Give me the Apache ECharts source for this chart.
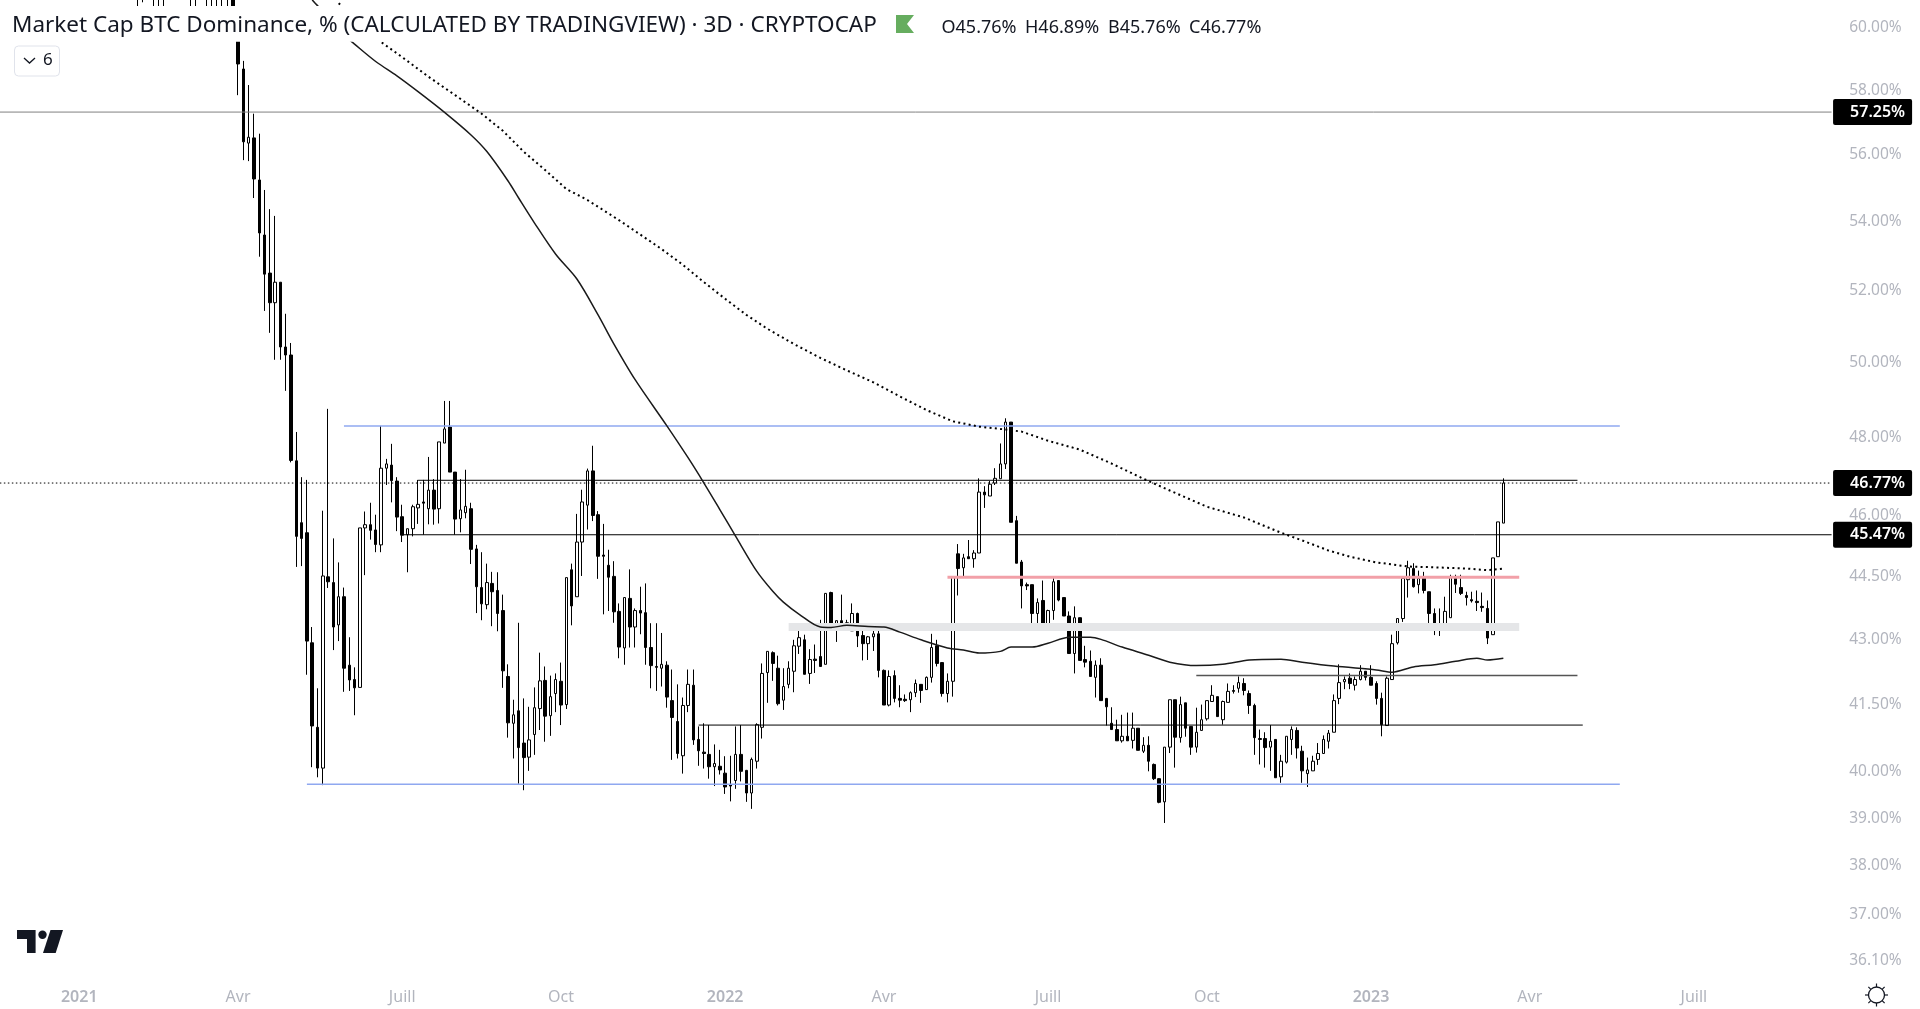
<!DOCTYPE html>
<html lang="fr">
<head>
  <meta charset="UTF-8" />
  <title>Market Cap BTC Dominance</title>
  <script src="https://cdn.jsdelivr.net/npm/echarts@6/dist/echarts.min.js"></script>
  <style>
    html, body { margin: 0; padding: 0; background: #fff; }
    #chart { width: 1920px; height: 1009px; }
  </style>
</head>
<body>
  <div id="chart"></div>
  <script>
    const font = '"Noto Sans", sans-serif';
    const barCount = 347;
    const firstBar = 26;

    // x axis labels, by bar index
    const tickIndex = [15, 45, 76, 106, 137, 167, 198, 228, 259, 289, 320];
    const tickLabels = ['2021', 'Avr', 'Juill', 'Oct', '2022', 'Avr', 'Juill', 'Oct', '2023', 'Avr', 'Juill'];
    const yTicks = [60, 58, 56, 54, 52, 50, 48, 46, 44.5, 43, 41.5, 40, 39, 38, 37, 36.1];

    const gap = ['-', '-', '-', '-'];
    // open, close, low, high (bars start at firstBar, those first ones run off the top)
    const candles = [
      [61.9,61.4,60.4,62.2],[61.9,61.4,60.78,62.2],gap,[61.9,61.4,60.4,62.2],[61.9,61.4,60.4,62.2],[61.9,61.4,60.4,62.2],
      gap,gap,gap,gap,[61.9,61.4,60.4,62.2],[61.9,61.4,60.4,62.2],gap,[61.9,61.4,60.4,62.2],[61.9,61.4,60.4,62.2],
      [61.9,61.4,60.4,62.2],[61.9,61.4,60.4,62.2],[61.9,61.4,60.4,62.2],[62,60.2,60,62.2],
      [60.03,58.77,57.78,60.53],[58.61,56.33,55.77,58.87],[56.29,56.47,55.74,58.10],[56.45,55.20,54.63,57.20],
      [55.17,53.60,52.91,56.58],[53.54,52.41,51.37,54.87],[52.44,51.60,50.76,54.30],[51.60,52.18,50.02,54.10],
      [52.18,50.37,50.02,52.18],[50.37,50.15,49.18,51.29],[50.15,47.35,47.30,50.48],
      [47.34,45.43,44.68,48.09],[45.77,45.38,44.70,46.92],[45.52,42.91,42.13,46.85],[42.87,40.97,40.06,43.24],
      [40.94,40.04,39.84,41.82],[40.04,44.46,39.67,46.07],[44.44,44.32,44.17,48.70],[44.30,43.24,42.70,45.38],
      [43.29,43.96,42.91,44.79],[43.96,42.28,41.74,44.18],[42.35,42.01,41.76,43.00],[42.02,41.83,41.21,42.30],
      [41.84,45.64,41.84,45.64],[45.64,45.72,44.48,46.05],[45.72,45.58,45.35,46.27],[45.59,45.23,45.04,45.97],
      [45.22,47.15,45.04,48.25],[47.15,47.26,46.72,47.39],[47.23,46.83,46.28,47.78],[46.82,45.91,45.56,46.92],
      [45.92,45.46,45.29,46.22],[45.47,45.62,44.55,45.62],[45.62,46.17,45.43,46.22],[46.14,46.23,45.74,46.85],
      [46.29,46.26,45.47,46.85],[46.12,46.59,45.73,47.44],[46.59,46.11,45.72,46.87],[46.12,47.83,45.75,47.83],
      [47.80,48.17,47.80,48.91],[48.22,47.05,47.05,48.91],[47.05,45.86,45.47,47.05],[45.87,46.09,45.53,46.87],
      [46.02,46.18,45.88,47.11],[46.12,45.11,44.75,46.27],[45.12,44.20,43.57,45.22],[44.18,43.79,43.40,45.04],
      [43.77,44.30,43.66,44.76],[44.28,44.08,43.26,44.56],[44.11,43.56,43.14,44.55],[43.63,42.22,41.83,44.01],
      [42.09,41.04,40.71,42.37],[41.03,41.22,40.25,41.56],[41.31,40.49,39.70,43.34],[40.59,40.27,39.56,41.59],
      [40.28,40.66,39.98,41.40],[40.78,41.38,40.33,41.84],[41.36,41.99,40.88,42.64],[42.00,41.19,40.62,42.32],
      [41.20,41.63,40.75,42.11],[41.70,42.02,41.28,42.16],[41.98,41.44,40.99,42.41],[41.45,44.42,41.35,44.42],
      [44.61,43.74,43.28,44.76],[43.96,45.29,43.96,45.99],[45.29,46.29,44.46,46.60],[46.21,47.08,45.60,47.14],
      [47.08,45.95,45.81,47.73],[45.97,44.94,44.39,46.06],[44.97,44.94,43.54,45.74],[44.72,44.43,43.62,45.10],
      [44.45,43.60,43.34,44.82],[43.61,42.77,42.51,43.80],[42.75,43.94,42.36,43.94],[43.92,43.24,42.76,44.62],
      [43.24,43.63,42.76,43.68],[43.63,43.57,43.07,44.20],[43.58,42.76,42.36,44.28],[42.76,42.34,41.82,43.33],
      [42.32,42.30,41.76,43.33],[42.28,42.37,41.86,43.10],[42.35,41.62,41.38,42.44],[41.54,41.16,40.22,42.25],
      [41.07,40.36,40.25,41.91],[40.31,41.43,39.92,41.61],[41.43,41.91,41.28,42.25],[41.89,40.66,40.55,42.25],
      [40.67,40.42,40.09,40.96],[40.39,40.36,40.03,41.03],[40.34,40.07,39.81,40.99],[40.07,40.14,39.65,40.56],
      [40.08,40.00,39.90,40.44],[39.93,39.63,39.48,40.30],[39.68,39.65,39.32,40.31],[39.77,40.34,39.59,40.96],
      [40.34,39.97,39.75,40.99],[39.99,39.50,39.31,40.00],[39.50,40.23,39.16,40.27],[40.19,41.00,40.03,41.03],
      [40.94,42.16,40.69,42.39],[42.18,42.67,41.49,42.67],[42.64,42.39,41.99,42.67],[42.28,41.47,41.43,42.57],
      [41.55,41.86,41.33,42.28],[41.91,42.28,41.82,42.44],[42.21,42.80,41.73,42.94],[42.79,42.99,42.61,43.22],
      [42.94,42.14,42.14,43.06],[42.16,42.48,41.92,42.72],[42.49,42.46,42.17,42.83],[42.55,42.32,42.32,43.41],
      [42.37,44.04,42.37,44.04],[44.06,43.22,43.22,44.08],[43.26,43.39,42.89,43.39],[43.39,43.32,43.32,44.01],
      [43.34,43.17,43.17,43.41],[43.15,43.56,43.15,43.80],[43.56,43.03,42.77,43.58],[43.04,42.85,42.46,43.15],
      [42.85,43.01,42.47,43.03],[43.01,43.08,42.68,43.24],[43.08,42.23,42.07,43.24],[42.23,41.44,41.44,42.25],
      [41.44,42.09,41.41,42.23],[42.11,41.59,41.50,42.23],[41.59,41.55,41.39,41.89],[41.57,41.54,41.51,41.68],
      [41.56,41.72,41.28,41.75],[41.72,41.93,41.62,42.02],[41.91,41.77,41.49,41.91],[41.79,42.07,41.79,42.09],
      [42.07,42.76,41.95,43.08],[42.80,42.39,42.32,42.94],[42.41,41.70,41.63,42.42],[41.70,41.98,41.50,42.16],
      [41.98,44.44,41.63,44.44],[45.00,44.64,43.99,45.24],[44.66,44.90,44.44,45.00],[44.93,44.88,44.88,45.34],
      [44.88,45.02,44.66,45.09],[45.02,46.54,45.02,46.89],[46.54,46.47,46.14,46.69],[46.44,46.74,46.44,46.82],
      [46.77,46.89,46.72,47.15],[46.88,47.26,46.88,47.79],[47.26,48.35,47.13,48.45],[48.35,45.78,45.78,48.35],
      [45.82,44.77,44.77,45.94],[44.80,44.22,43.68,44.85],[44.25,44.22,44.12,44.30],[44.25,43.56,43.17,44.25],
      [43.56,43.82,43.23,43.92],[43.87,43.24,43.20,44.35],[43.22,43.63,43.17,43.65],[43.63,44.32,43.41,44.42],
      [44.35,43.88,43.85,44.35],[43.94,43.50,43.50,43.94],[43.50,42.62,42.62,43.61],[42.62,43.46,42.16,43.73],
      [43.46,42.46,42.46,43.46],[42.48,42.42,42.30,42.80],[42.44,42.09,42.09,42.69],[42.07,42.35,41.61,42.46],
      [42.35,41.54,41.54,42.51],[41.59,41.40,40.98,41.60],[41.03,40.89,40.89,41.39],[40.89,40.64,40.64,41.11],
      [40.64,40.74,40.60,41.22],[40.74,40.64,40.64,41.27],[40.65,40.92,40.47,41.27],[40.92,40.43,40.43,40.92],
      [40.41,40.54,40.37,40.72],[40.54,40.19,39.97,40.74],[40.12,39.81,39.78,40.14],[39.81,39.30,39.28,39.82],
      [39.31,40.50,38.86,40.50],[40.50,41.56,40.37,41.56],[41.56,40.72,40.05,41.56],[40.71,41.45,40.60,41.63],
      [41.49,40.92,40.73,41.49],[40.96,40.50,40.33,40.96],[40.50,40.83,40.38,41.38],[40.87,41.11,40.87,41.45],
      [41.13,41.54,41.09,41.54],[41.52,41.66,41.52,41.89],[41.63,41.18,41.18,41.63],[41.11,41.52,41.00,41.54],
      [41.50,41.75,41.50,41.93],[41.77,41.75,41.70,41.89],[41.82,41.95,41.72,42.09],[41.93,41.77,41.66,42.05],
      [41.70,41.43,41.24,41.77],[41.43,40.71,40.33,41.47],[40.69,40.67,40.12,40.89],[40.69,40.49,40.05,40.83],
      [40.50,40.63,39.98,40.99],[40.67,39.83,39.83,40.67],[39.85,40.19,39.72,40.33],[40.17,40.74,40.14,40.74],
      [40.67,40.89,40.33,40.96],[40.87,40.48,40.25,40.94],[40.41,39.98,39.72,40.53],[39.92,40.00,39.63,40.27],
      [39.98,40.19,39.98,40.31],[40.23,40.36,40.11,40.59],[40.36,40.67,40.36,40.76],[40.63,40.81,40.47,40.88],
      [40.83,41.54,40.83,41.68],[41.59,41.95,41.46,42.37],[41.97,42.02,41.80,42.09],[42.05,41.93,41.80,42.16],
      [41.89,42.02,41.77,42.09],[42.02,42.21,42.00,42.35],[42.21,42.07,42.00,42.21],[42.07,41.89,41.89,42.35],
      [41.93,41.59,41.45,41.98],[41.59,41.00,40.74,41.72],[40.98,42.05,40.98,42.09],[42.02,42.85,42.02,43.06],
      [42.87,43.44,42.83,43.44],[43.44,44.40,43.36,44.40],[44.37,44.66,43.94,44.83],[44.64,44.20,44.18,44.77],
      [44.25,44.40,44.04,44.59],[44.42,44.11,44.04,44.56],[44.08,43.56,43.26,44.08],[43.56,43.22,43.05,43.68],
      [43.20,43.29,43.03,43.68],[43.29,43.61,43.19,43.96],[43.46,44.42,43.46,44.49],[44.42,44.26,44.05,44.49],
      [44.18,44.04,44.00,44.49],[43.99,43.94,43.75,44.08],[43.89,43.86,43.82,44.08],[43.85,43.82,43.62,44.11],
      [43.73,43.70,43.60,44.06],[43.68,42.98,42.84,43.87],[43.06,44.90,43.06,44.90],[44.93,45.79,44.93,45.79],
      [45.76,46.77,45.76,46.89]
    ];

    // moving averages, [bar index, value] read every few bars
    const maFast = [
      [59,60.86],[60,60.67],[66,59.56],[67,59.41],[71,58.85],[75,58.39],[79,57.89],[84,57.24],[89,56.54],[92,56.03],
      [96,55.14],[98,54.63],[101,53.89],[105,52.98],[109,52.27],[113,51.26],[116,50.45],[120,49.48],[126,48.25],
      [130,47.42],[133,46.77],[136,46.10],[139,45.43],[143,44.57],[146,44.09],[148,43.83],[151,43.54],[155,43.24],
      [157,43.23],[160,43.28],[164,43.25],[167,43.24],[170,43.12],[174,42.94],[179,42.75],[182,42.70],[185,42.63],
      [189,42.67],[191,42.77],[195,42.77],[198,42.86],[202,43.00],[206,43.00],[208,42.95],[212,42.77],[217,42.58],
      [221,42.42],[226,42.34],[231,42.37],[236,42.47],[242,42.49],[246,42.42],[252,42.33],[260,42.24],[263,42.19],
      [267,42.31],[271,42.36],[275,42.44],[279,42.51],[281,42.47],[284,42.51]
    ];
    const maSlow = [
      [64,60.75],[72,59.48],[76,58.99],[81,58.36],[86,57.78],[91,57.20],[95,56.67],[99,56.02],[103,55.47],[107,54.90],
      [111,54.57],[117,53.97],[121,53.55],[125,53.13],[129,52.68],[133,52.18],[137,51.71],[141,51.26],[145,50.87],
      [150,50.45],[155,50.07],[160,49.73],[165,49.41],[170,49.03],[175,48.67],[180,48.37],[185,48.23],[189,48.17],
      [193,48.10],[198,47.86],[204,47.63],[210,47.27],[216,46.88],[221,46.58],[228,46.17],[235,45.90],[242,45.52],
      [246,45.33],[251,45.08],[255,44.93],[260,44.79],[266,44.69],[271,44.67],[277,44.64],[281,44.60],[284,44.64]
    ];

    // drawn levels: [start bar, end bar, price]
    const levelBlueTop = [65, 306, 48.25];
    const levelBlueBottom = [58, 306, 39.69];
    const levelRed = [179, 287, 44.43];
    const levelBand = [149, 287, 43.24];
    const levelUpper = [79, 298, 46.84];
    const levelMid = [76, 346, 45.47];
    const levelLow = [132, 299, 40.99];
    const levelNeck = [226, 298, 42.11];
    const levelOld = [0, 346, 57.25];
    const lastPrice = [0, 346, 46.77];

    const legendText = ['O45.76%', 'H46.89%', 'B45.76%', 'C46.77%'];

    const categories = [];
    for (let i = 0; i < barCount; i++) categories.push(String(i));

    const barData = [];
    for (let i = 0; i < firstBar; i++) barData.push(gap);
    candles.forEach(c => barData.push(c));
    while (barData.length < barCount) barData.push(gap);

    function level(l, color, width, type, tag) {
      const s = {
        type: 'line',
        data: [[l[0], l[2]], [l[1], l[2]]],
        symbol: 'none',
        silent: true,
        lineStyle: { color: color, width: width, type: type || 'solid', cap: 'butt' }
      };
      if (tag) {
        s.clip = false;
        s.endLabel = {
          show: true,
          formatter: l[2].toFixed(2) + '%',
          distance: 1.5,
          backgroundColor: '#000',
          color: '#fff',
          fontFamily: font,
          fontSize: 16,
          fontWeight: 600,
          borderRadius: 2,
          padding: [6, 7, 4, 17]
        };
      }
      return s;
    }

    const sunRays = [];
    for (let a = 0; a < 8; a++) {
      const t = a * Math.PI / 4;
      sunRays.push({
        type: 'line', z: 60,
        shape: { x1: 1876.5 + 8 * Math.cos(t), y1: 995 + 8 * Math.sin(t), x2: 1876.5 + 11.5 * Math.cos(t), y2: 995 + 11.5 * Math.sin(t) },
        style: { stroke: '#131722', lineWidth: 1.2 }
      });
    }

    const legendX = [941.5, 1025, 1108, 1189];

    const chart = echarts.init(document.getElementById('chart'), null, { renderer: 'canvas' });
    chart.setOption({
      animation: false,
      backgroundColor: '#fff',
      textStyle: { fontFamily: font },
      grid: { left: -2.8, top: 0, width: barCount * 5.294, bottom: 34, containLabel: false, outerBoundsMode: 'none' },
      xAxis: {
        type: 'category',
        data: categories,
        boundaryGap: true,
        axisLine: { show: false },
        axisTick: { show: false },
        splitLine: { show: false },
        axisLabel: {
          interval: 0,
          margin: 14,
          color: '#b2b5be',
          fontFamily: font,
          fontSize: 16,
          formatter: (v, i) => {
            const k = tickIndex.indexOf(i);
            if (k < 0) return '';
            const t = tickLabels[k];
            return /^\d/.test(t) ? '{y|' + t + '}' : t;
          },
          rich: { y: { fontWeight: 600, color: '#b2b5be', fontFamily: font, fontSize: 16 } }
        }
      },
      yAxis: {
        type: 'log',
        logBase: 10,
        position: 'right',
        min: 35.77,
        max: 60.856,
        splitLine: { show: false },
        axisLine: { show: false },
        axisTick: { show: false },
        axisLabel: {
          customValues: yTicks,
          margin: 15,
          color: '#b2b5be',
          fontFamily: font,
          fontSize: 15.5,
          formatter: v => '{p|' + v.toFixed(2) + '%}',
          rich: { p: { padding: [4, 0, 0, 0], color: '#b2b5be', fontFamily: font, fontSize: 15.5 } }
        }
      },
      series: [
        level(levelBand, '#e5e6e8', 8),
        level(levelBlueTop, '#8fa8f0', 1.5),
        level(levelBlueBottom, '#8fa8f0', 1.5),
        level(levelRed, '#f2a0a8', 3),
        level(levelOld, '#808080', 1, 'solid', true),
        level(lastPrice, '#000', 1, [1.5, 2.5], true),
        level(levelMid, '#000', 1, 'solid', true),
        level(levelUpper, '#000', 1),
        level(levelLow, '#000', 1),
        level(levelNeck, '#555', 1.5),
        {
          type: 'candlestick',
          data: barData,
          barWidth: 3,
          silent: true,
          itemStyle: { color: '#fff', color0: '#000', borderColor: '#000', borderColor0: '#000', borderWidth: 1 }
        },
        {
          type: 'line',
          data: maFast,
          symbol: 'none',
          smooth: 0.3,
          silent: true,
          lineStyle: { color: '#1a1a1a', width: 1.5 }
        },
        {
          type: 'line',
          data: maSlow,
          symbol: 'none',
          silent: true,
          lineStyle: { color: '#000', width: 2, type: [2, 3.3] }
        }
      ],
      graphic: {
        elements: [
          { type: 'rect', z: 50, shape: { x: 0, y: 6, width: 1275, height: 35.7 }, style: { fill: '#fff' } },
          { type: 'text', z: 60, x: 12, y: 26, style: {
            text: 'Market Cap BTC Dominance, % (CALCULATED BY TRADINGVIEW) · 3D · CRYPTOCAP',
            font: '22.5px ' + font, fill: '#131722', verticalAlign: 'middle' } },
          { type: 'polygon', z: 60, shape: { points: [[896, 15], [914, 15], [907, 24], [914, 33], [896, 33]] }, style: { fill: '#66ad5f' } }
        ].concat(legendText.map((t, i) => ({
          type: 'text', z: 60, x: legendX[i], y: 28,
          style: { text: t, font: '18px ' + font, fill: '#131722', verticalAlign: 'middle' }
        }))).concat([
          { type: 'rect', z: 60, shape: { x: 14.5, y: 46, width: 45, height: 30, r: 4 }, style: { fill: '#fff', stroke: '#e0e3eb', lineWidth: 1 } },
          { type: 'polyline', z: 61, shape: { points: [[24, 58], [29.5, 63], [35, 58]] }, style: { stroke: '#131722', lineWidth: 1.3, fill: 'none' } },
          { type: 'text', z: 61, x: 43, y: 60, style: { text: '6', font: '17px ' + font, fill: '#131722', verticalAlign: 'middle' } },
          // logo
          { type: 'polygon', z: 60, shape: { points: [[17, 930], [35.6, 930], [35.6, 953], [27, 953], [27, 939], [17, 939]] }, style: { fill: '#131722' } },
          { type: 'circle', z: 60, shape: { cx: 42.5, cy: 934.7, r: 4.2 }, style: { fill: '#131722' } },
          { type: 'polygon', z: 60, shape: { points: [[50.5, 930], [63, 930], [55.7, 953], [43, 953]] }, style: { fill: '#131722' } },
          // sun icon
          { type: 'circle', z: 60, shape: { cx: 1876.5, cy: 995, r: 8 }, style: { fill: 'none', stroke: '#131722', lineWidth: 1.3 } }
        ]).concat(sunRays)
      }
    });
  </script>
</body>
</html>
